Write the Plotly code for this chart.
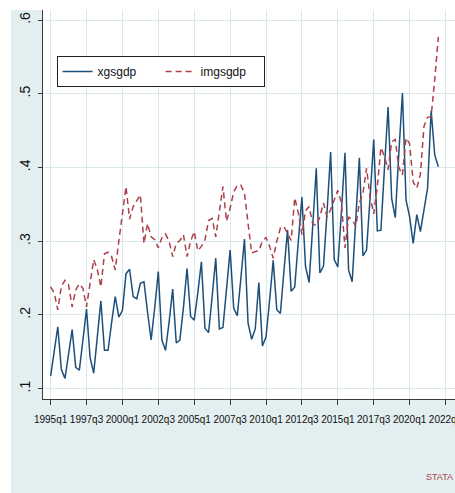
import plotly.graph_objects as go

# Quarterly periods 1995q1 .. 2022q1
start_year = 1995
n_periods = 109
quarters = [f"{start_year + i // 4}q{i % 4 + 1}" for i in range(n_periods)]
period_index = list(range(n_periods))

xgsgdp = [
    0.117, 0.150, 0.184, 0.126, 0.114, 0.147, 0.180, 0.129, 0.125, 0.166,
    0.208, 0.142, 0.121, 0.170, 0.219, 0.152, 0.152, 0.190, 0.225, 0.197,
    0.206, 0.256, 0.262, 0.225, 0.222, 0.243, 0.245, 0.204, 0.166, 0.210,
    0.259, 0.166, 0.152, 0.190, 0.235, 0.162, 0.166, 0.210, 0.263, 0.198,
    0.193, 0.230, 0.272, 0.182, 0.176, 0.225, 0.277, 0.181, 0.183, 0.235,
    0.288, 0.209, 0.199, 0.250, 0.303, 0.189, 0.167, 0.181, 0.244, 0.158,
    0.170, 0.220, 0.274, 0.207, 0.202, 0.260, 0.315, 0.232, 0.238, 0.300,
    0.360, 0.266, 0.244, 0.320, 0.399, 0.257, 0.266, 0.340, 0.421, 0.275,
    0.265, 0.340, 0.420, 0.261, 0.245, 0.330, 0.413, 0.280, 0.288, 0.360,
    0.438, 0.314, 0.315, 0.400, 0.482, 0.358, 0.332, 0.420, 0.501, 0.356,
    0.333, 0.297, 0.336, 0.313, 0.342, 0.372, 0.477, 0.417, 0.401,
]

imgsgdp = [
    0.238, 0.230, 0.207, 0.239, 0.247, 0.241, 0.211, 0.234, 0.242, 0.236,
    0.211, 0.243, 0.275, 0.262, 0.238, 0.283, 0.285, 0.279, 0.261, 0.300,
    0.335, 0.374, 0.330, 0.347, 0.355, 0.363, 0.297, 0.324, 0.306, 0.302,
    0.291, 0.305, 0.310, 0.300, 0.279, 0.297, 0.301, 0.309, 0.279, 0.300,
    0.313, 0.287, 0.293, 0.302, 0.328, 0.331, 0.306, 0.339, 0.374, 0.327,
    0.345, 0.367, 0.376, 0.376, 0.365, 0.324, 0.284, 0.286, 0.287, 0.300,
    0.305, 0.293, 0.277, 0.300, 0.318, 0.320, 0.310, 0.301, 0.359, 0.338,
    0.309, 0.341, 0.347, 0.324, 0.321, 0.333, 0.352, 0.333, 0.343, 0.356,
    0.369, 0.352, 0.291, 0.333, 0.329, 0.320, 0.352, 0.365, 0.399, 0.360,
    0.337, 0.374, 0.427, 0.415, 0.397, 0.435, 0.438, 0.400, 0.390, 0.440,
    0.432, 0.380, 0.372, 0.391, 0.456, 0.468, 0.469, 0.520, 0.577,
]

x_tick_pos = [0, 10, 20, 30, 40, 50, 60, 70, 80, 90, 100, 110]
x_tick_labels = ["1995q1", "1997q3", "2000q1", "2002q3", "2005q1", "2007q3",
                 "2010q1", "2012q3", "2015q1", "2017q3", "2020q1", "2022q3"]
y_tick_vals = [0.1, 0.2, 0.3, 0.4, 0.5, 0.6]
y_tick_labels = [".1", ".2", ".3", ".4", ".5", ".6"]

FONT = "Liberation Sans, Arial, sans-serif"
BLUE = "#1d4f7a"
RED = "#ad404a"
BG = "#e2eef0"
GRID = "#d9e8ed"

fig = go.Figure()
fig.add_trace(go.Scatter(
    x=period_index, y=xgsgdp, name="xgsgdp", mode="lines",
    text=quarters, line=dict(color=BLUE, width=1.5),
))
fig.add_trace(go.Scatter(
    x=period_index, y=imgsgdp, name="imgsgdp", mode="lines",
    text=quarters, line=dict(color=RED, width=1.5, dash="6px,4px"),
))

# white margins outside the graph region (left strip and top strip)
fig.add_shape(type="rect", xref="paper", yref="paper",
              x0=-0.2, x1=-0.0777, y0=-0.3, y1=1.1,
              fillcolor="white", line=dict(width=0), layer="below")
fig.add_shape(type="rect", xref="paper", yref="paper",
              x0=-0.2, x1=1.1, y0=1.0, y1=1.1,
              fillcolor="white", line=dict(width=0), layer="below")

fig.add_annotation(text="STATA", xref="paper", yref="paper",
                   x=1.0, y=-0.2, xanchor="right", yanchor="middle",
                   showarrow=False,
                   font=dict(family=FONT, size=9, color="#b0424a"))

fig.update_layout(
    width=455, height=493,
    margin=dict(l=43, r=0, t=10, b=94, pad=0),
    paper_bgcolor=BG,
    plot_bgcolor="white",
    showlegend=True,
    legend=dict(
        orientation="h", x=0.033, y=0.882, xanchor="left", yanchor="top",
        bgcolor="white", bordercolor="#222222", borderwidth=1,
        font=dict(family=FONT, size=12, color="#111111"),
        entrywidth=58, entrywidthmode="pixels",
    ),
    xaxis=dict(
        range=[-2.12, 112.64], automargin=False,
        tickmode="array", tickvals=x_tick_pos, ticktext=x_tick_labels,
        tickangle=0, ticklabelstandoff=6, ticklabeloverflow="allow",
        showgrid=True, gridcolor=GRID, gridwidth=1,
        zeroline=False, showline=True, linecolor="#3a3a3a", linewidth=1,
        ticks="outside", ticklen=5, tickcolor="#3a3a3a", tickwidth=1,
        tickfont=dict(family=FONT, size=10, color="#111111"),
    ),
    yaxis=dict(
        range=[0.086, 0.6136], automargin=False,
        tickmode="array", tickvals=y_tick_vals, ticktext=y_tick_labels,
        showgrid=True, gridcolor=GRID, gridwidth=1,
        zeroline=False, showline=True, linecolor="#3a3a3a", linewidth=1,
        ticks="outside", ticklen=4, tickcolor="#3a3a3a", tickwidth=1,
        tickangle=-90, ticklabelstandoff=2,
        tickfont=dict(family=FONT, size=14, color="#111111"),
    ),
)

fig.write_html("out.html", config={"displayModeBar": False},
               post_script="document.body.style.margin='0';")
